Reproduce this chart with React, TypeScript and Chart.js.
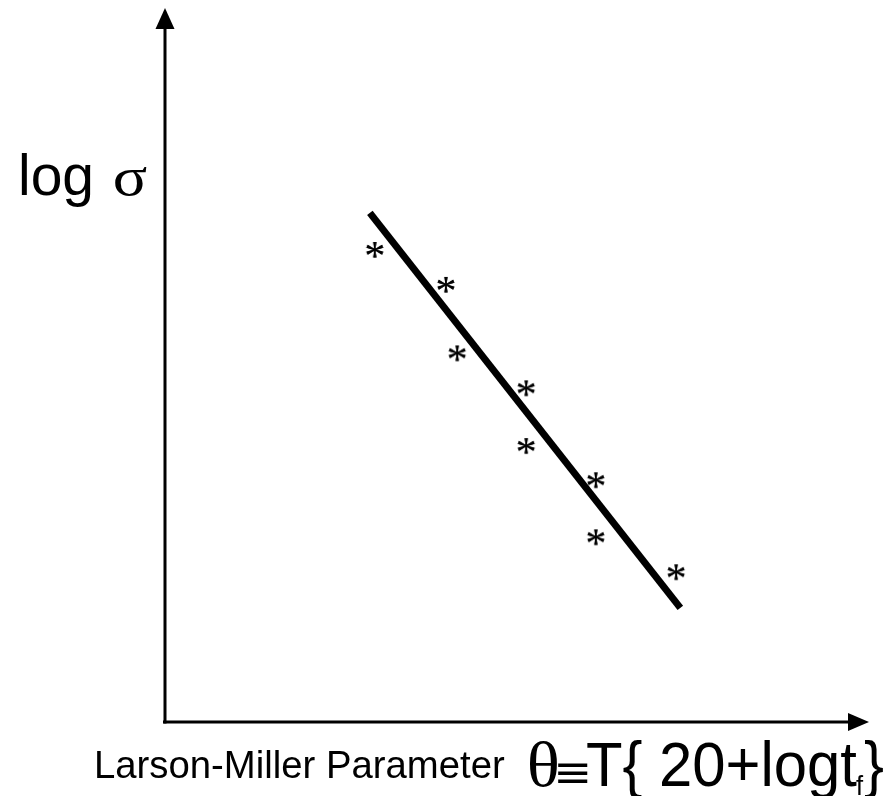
import React, { useEffect, useRef } from "react";
import { Chart, registerables } from "chart.js";

Chart.register(...registerables);

// Data (arbitrary units on hidden linear scales 0..100)
const fitLineX = [29.1, 73.2];
const fitLineY = [71.4, 16.0];
const pointsX = [29.8, 39.9, 41.5, 51.3, 51.3, 61.2, 61.2, 72.6];
const pointsY = [66.2, 61.3, 51.7, 46.8, 38.7, 33.9, 25.9, 21.0];

const yTitleMain = "log";
const yTitleSymbol = "σ";
const xTitleText = "Larson-Miller Parameter";
const xFormulaTheta = "θ";
const xFormulaEquiv = "≡";
const xFormulaBody = "T{ 20+logt";
const xFormulaSub = "f";
const xFormulaClose = "}";

function makeAsterisk(): HTMLCanvasElement {
  const c = document.createElement("canvas");
  c.width = 30;
  c.height = 30;
  const ctx = c.getContext("2d")!;
  ctx.fillStyle = "#000";
  ctx.font = "42px 'Liberation Serif', 'Times New Roman', serif";
  const m = ctx.measureText("*");
  const w = m.actualBoundingBoxLeft + m.actualBoundingBoxRight;
  const h = m.actualBoundingBoxAscent + m.actualBoundingBoxDescent;
  const x = 15 - w / 2 + m.actualBoundingBoxLeft;
  const y = 15 - h / 2 + m.actualBoundingBoxAscent;
  ctx.fillText("*", x, y);
  ctx.fillText("*", x, y);
  return c;
}

function fitText(ctx: CanvasRenderingContext2D, s: string, font: string, x0: number, y0: number, x1: number, y1: number) {
  ctx.font = font;
  const m = ctx.measureText(s);
  const w = m.actualBoundingBoxLeft + m.actualBoundingBoxRight;
  const h = m.actualBoundingBoxAscent + m.actualBoundingBoxDescent;
  ctx.save();
  ctx.translate(x0, y0);
  ctx.scale((x1 - x0) / w, (y1 - y0) / h);
  ctx.fillText(s, m.actualBoundingBoxLeft, m.actualBoundingBoxAscent);
  ctx.restore();
}

const decorPlugin = {
  id: "decor",
  afterDraw(chart: any) {
    const ctx: CanvasRenderingContext2D = chart.ctx;
    const a = chart.chartArea;
    ctx.save();
    ctx.strokeStyle = "#000";
    ctx.fillStyle = "#000";
    ctx.lineWidth = 3;
    ctx.lineCap = "butt";
    // y axis
    ctx.beginPath();
    ctx.moveTo(a.left, a.bottom + 1.5);
    ctx.lineTo(a.left, a.top + 15);
    ctx.stroke();
    ctx.beginPath();
    ctx.moveTo(a.left, a.top - 1);
    ctx.lineTo(a.left - 9.5, a.top + 20);
    ctx.lineTo(a.left + 9.5, a.top + 20);
    ctx.closePath();
    ctx.fill();
    // x axis
    ctx.beginPath();
    ctx.moveTo(a.left - 2, a.bottom);
    ctx.lineTo(a.right - 15, a.bottom);
    ctx.stroke();
    ctx.beginPath();
    ctx.moveTo(a.right, a.bottom);
    ctx.lineTo(a.right - 21, a.bottom - 9);
    ctx.lineTo(a.right - 21, a.bottom + 9);
    ctx.closePath();
    ctx.fill();

    // y title
    ctx.textBaseline = "alphabetic";
    ctx.textAlign = "left";
    ctx.font = "57px 'Liberation Sans', Arial, sans-serif";
    ctx.fillText(yTitleMain, 18, 195);
    fitText(ctx, yTitleSymbol, "60px 'Liberation Serif', 'Times New Roman', serif", 115, 168, 147, 196);

    // x title
    ctx.font = "38.3px 'Liberation Sans', Arial, sans-serif";
    ctx.fillText(xTitleText, 94, 778);

    // formula
    const base = 786;
    fitText(ctx, xFormulaTheta, "64px 'Liberation Serif', 'Times New Roman', serif", 530, 741, 557, 787);
    fitText(ctx, xFormulaEquiv, "48px 'DejaVu Sans', sans-serif", 558, 763, 588, 783);

    const bodyFont = "63px 'Liberation Sans', Arial, sans-serif";
    const subFont = "27px 'Liberation Sans', Arial, sans-serif";
    ctx.font = bodyFont;
    const wBody = ctx.measureText(xFormulaBody).width;
    const wClose = ctx.measureText(xFormulaClose).width;
    ctx.font = subFont;
    const wSub = ctx.measureText(xFormulaSub).width;
    const total = wBody + wSub + wClose;
    const sx = (884 - 586) / total;
    ctx.save();
    ctx.translate(586, base);
    ctx.scale(sx, 1);
    ctx.font = bodyFont;
    ctx.fillText(xFormulaBody, 0, 0);
    ctx.font = subFont;
    ctx.fillText(xFormulaSub, wBody - 1, 9);
    ctx.font = bodyFont;
    ctx.fillText(xFormulaClose, wBody + wSub, 0);
    ctx.restore();

    ctx.restore();
  },
};

export default function App() {
  const ref = useRef<HTMLCanvasElement | null>(null);
  useEffect(() => {
    if (!ref.current) return;
    const star = makeAsterisk();
    const chart = new Chart(ref.current, {
      type: "scatter",
      data: {
        datasets: [
          {
            type: "line",
            data: fitLineX.map((x, i) => ({ x, y: fitLineY[i] })),
            borderColor: "#000",
            borderWidth: 7,
            pointRadius: 0,
            fill: false,
          } as any,
          {
            type: "scatter",
            data: pointsX.map((x, i) => ({ x, y: pointsY[i] })),
            pointStyle: star as any,
            pointRadius: 8,
            backgroundColor: "#000",
            borderColor: "#000",
          },
        ],
      },
      options: {
        animation: false,
        responsive: false,
        layout: { padding: { left: 165, right: 16, top: 8, bottom: 74 } },
        plugins: { legend: { display: false }, tooltip: { enabled: false } },
        scales: {
          x: { type: "linear", min: 0, max: 100, display: false },
          y: { type: "linear", min: 0, max: 100, display: false },
        },
      },
      plugins: [decorPlugin],
    });
    return () => chart.destroy();
  }, []);
  return (
    <div style={{ position: "absolute", left: 0, top: 0, width: 885, height: 796, background: "#fff" }}>
      <canvas ref={ref} width={885} height={796} style={{ width: 885, height: 796 }} />
    </div>
  );
}
